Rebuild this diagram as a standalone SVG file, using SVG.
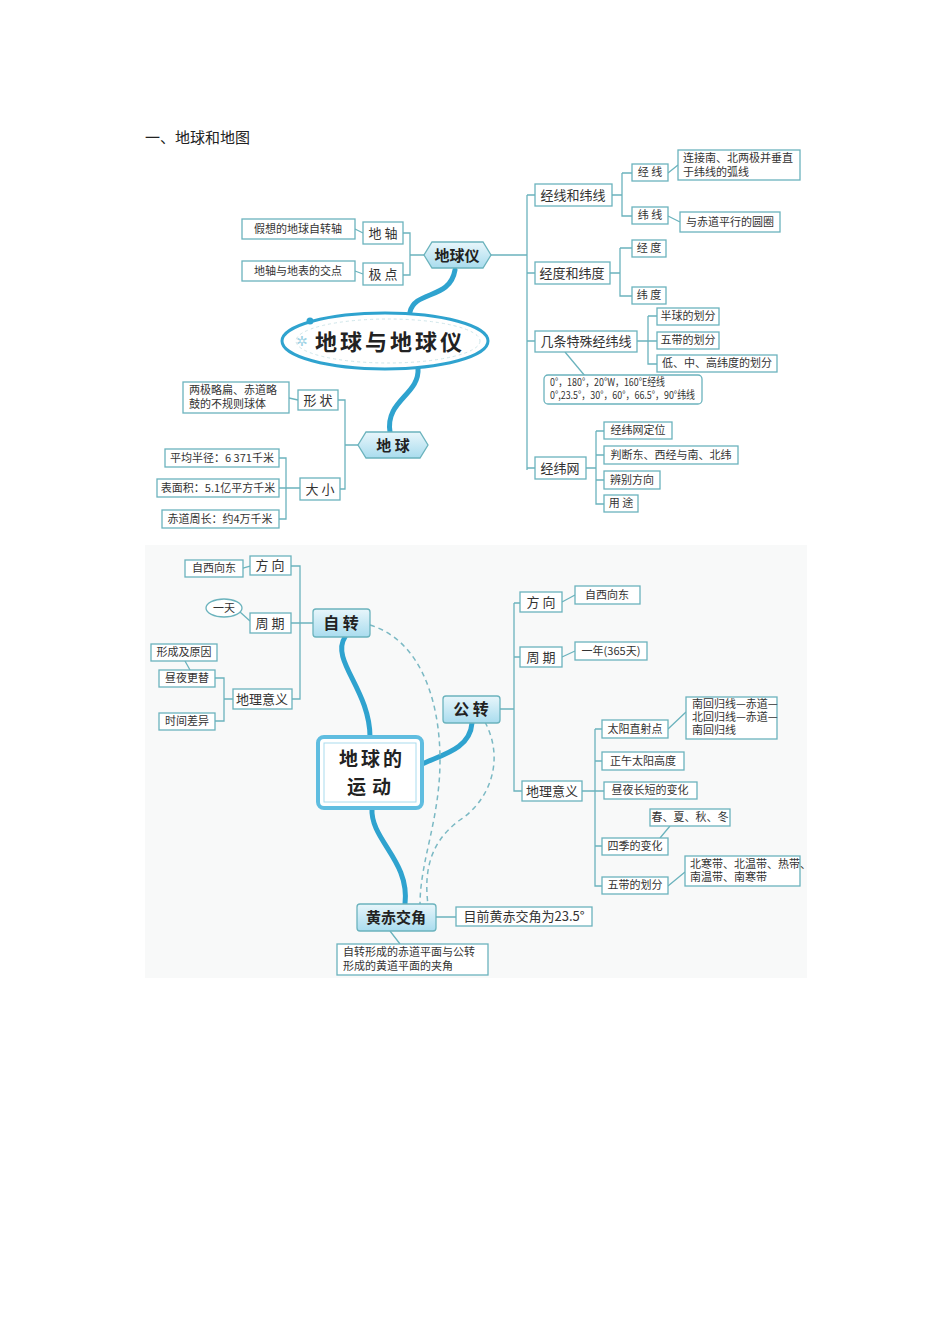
<svg xmlns="http://www.w3.org/2000/svg" width="950" height="1344" viewBox="0 0 950 1344">
<defs>
<style>
.b{fill:#fff;stroke:#6bb3bd;stroke-width:1.3}
.l{fill:none;stroke:#6bb3bd;stroke-width:1.3}
.t{font-family:"Noto Sans CJK SC","Liberation Serif",serif;fill:#333;font-size:11px}
.m{font-family:"Noto Sans CJK SC","Liberation Serif",serif;fill:#333;font-size:13px}
.big{font-family:"Noto Sans CJK SC",sans-serif;fill:#222;font-weight:bold}
.th{fill:none;stroke:#2fa3cf;stroke-width:5;stroke-linecap:round}
.d{fill:none;stroke:#7bb9c4;stroke-width:1.5;stroke-dasharray:5 4}
.g{fill:url(#gr);stroke:#6bb3bd;stroke-width:1.3}
</style>
<linearGradient id="gr" x1="0" y1="0" x2="0" y2="1"><stop offset="0" stop-color="#e8f6fb"/><stop offset="1" stop-color="#a9dcee"/></linearGradient>
</defs>
<rect width="950" height="1344" fill="#fff"/>
<text x="145" y="143" style="font-family:'Noto Sans CJK SC',sans-serif;font-size:15px;fill:#222">一、地球和地图</text>
<rect x="145" y="545" width="662" height="433" fill="#f8f9f9"/>

<g id="connectors">
<path class="l" d="M403 233 H410 V275 H403 M410 255 H425"/>
<path class="l" d="M355 229 L363 233 M355 271 L363 274"/>
<path class="th" d="M455 270 C450 300 415 290 410 312"/>
<path class="th" d="M418 368 C420 395 385 400 390 432"/>
<path class="l" d="M338 400 H345 V489 H340 M345 445 H358"/>
<path class="l" d="M289 398 L298 400"/>
<path class="l" d="M279 458 H286 V519 H279 M279 488 H300"/>
<path class="l" d="M490 255 H527 M527 195 V470 M527 195 H535 M527 273 H535 M527 341 H535 M527 468 H535"/>
<path class="l" d="M612 195 H622 M622 173 V216 H632 M622 173 H632"/>
<path class="l" d="M668 173 L678 165 M668 216 L680 222"/>
<path class="l" d="M610 273 H620 M620 248 V296 H632 M620 248 H632"/>
<path class="l" d="M637 341 H648 M648 316 V364 H657 M648 316 H657 M648 341 H657"/>
<path class="l" d="M565 352 L585 376"/>
<path class="l" d="M586 468 H596 M596 431 V504 H604 M596 431 H604 M596 455 H604 M596 480 H604"/>
<path class="l" d="M291 566 H300 V699 H292 M291 623 H313"/>
<path class="l" d="M243 568 L250 566 M240 612 L250 621"/>
<path class="l" d="M215 678 H224 V721 H215 M224 699 H233 M185 661 L190 670"/>
<path class="th" d="M345 637 C330 660 370 690 370 737"/>
<path class="th" d="M472 723 C470 750 440 755 420 765"/>
<path class="th" d="M405 904 C410 860 370 840 372 808"/>
<path class="d" d="M370 625 C420 640 440 700 440 760 C440 820 420 860 420 905"/>
<path class="d" d="M485 722 C505 760 490 800 460 820 C425 845 425 880 428 905"/>
<path class="l" d="M500 709 H514 M514 603 V791 H522 M514 603 H520 M514 657 H520"/>
<path class="l" d="M562 602 L575 595 M562 657 L575 651"/>
<path class="l" d="M582 791 H595 M595 729 V886 H602 M595 729 H602 M595 761 H602 M595 791 H604 M595 846 H602"/>
<path class="l" d="M668 729 L686 712 M660 838 L670 826 M668 886 L685 872"/>
<path class="l" d="M436 917 H456 M390 931 L400 944"/>
</g>

<g id="n-diqiuyi"><path class="g" d="M432 242 H483 L491 255 L483 268 H432 L424 255 Z"/><text class="big" x="457" y="261" font-size="15" text-anchor="middle">地球仪</text></g>
<g id="n-dizhou"><rect class="b" x="363" y="222" width="40" height="22"/><text class="m" x="383" y="238" text-anchor="middle">地 轴</text></g>
<g id="n-jidian"><rect class="b" x="363" y="263" width="40" height="22"/><text class="m" x="383" y="279" text-anchor="middle">极 点</text></g>
<g id="n-jiaxiang"><rect class="b" x="242" y="219" width="113" height="20"/><text class="t" x="298" y="233" text-anchor="middle" font-size="10">假想的地球自转轴</text></g>
<g id="n-jiaodian"><rect class="b" x="242" y="261" width="113" height="20"/><text class="t" x="298" y="275" text-anchor="middle" font-size="10">地轴与地表的交点</text></g>
<g id="n-main1"><ellipse cx="385" cy="341" rx="103" ry="28" fill="#fff" stroke="#2fa3cf" stroke-width="3"/><ellipse cx="388" cy="341" rx="92" ry="22" fill="none" stroke="#cfe6ea" stroke-dasharray="3 3"/><circle cx="310" cy="321" r="3.5" fill="#2fa3cf"/><text x="296" y="346" font-size="14" fill="#9fd3e5" font-family="DejaVu Sans">✲</text><text class="big" x="390" y="350" font-size="22" text-anchor="middle" letter-spacing="3">地球与地球仪</text></g>
<g id="n-diqiu"><path class="g" d="M366 432 H420 L428 445 L420 458 H366 L358 445 Z"/><text class="big" x="393" y="451" font-size="15" text-anchor="middle">地  球</text></g>
<g id="n-xingzhuang"><rect class="b" x="298" y="390" width="40" height="20"/><text class="m" x="318" y="405" text-anchor="middle">形 状</text></g>
<g id="n-xzdesc"><rect class="b" x="183" y="382" width="106" height="31"/><text class="t" x="189" y="394" font-size="9.5">两极略扁、赤道略</text><text class="t" x="189" y="408" font-size="9.5">鼓的不规则球体</text></g>
<g id="n-daxiao"><rect class="b" x="300" y="478" width="40" height="22"/><text class="m" x="320" y="494" text-anchor="middle">大 小</text></g>
<g id="n-banjing"><rect class="b" x="165" y="449" width="114" height="18"/><text class="t" x="222" y="462" font-size="10" text-anchor="middle">平均半径：6 371千米</text></g>
<g id="n-mianji"><rect class="b" x="157" y="479" width="122" height="18"/><text class="t" x="218" y="492" font-size="10" text-anchor="middle">表面积：5.1亿平方千米</text></g>
<g id="n-zhouchang"><rect class="b" x="162" y="510" width="117" height="18"/><text class="t" x="220" y="523" font-size="10" text-anchor="middle">赤道周长：约4万千米</text></g>
<g id="n-jxwx"><rect class="b" x="535" y="184" width="77" height="22"/><text class="m" x="573" y="200" text-anchor="middle">经线和纬线</text></g>
<g id="n-jx"><rect class="b" x="632" y="164" width="36" height="17"/><text class="t" x="650" y="176" text-anchor="middle" font-size="10">经 线</text></g>
<g id="n-wx"><rect class="b" x="632" y="207" width="36" height="17"/><text class="t" x="650" y="219" text-anchor="middle" font-size="10">纬 线</text></g>
<g id="n-jxdesc"><rect class="b" x="678" y="150" width="122" height="30"/><text class="t" x="683" y="162" font-size="9.5">连接南、北两极并垂直</text><text class="t" x="683" y="176" font-size="9.5">于纬线的弧线</text></g>
<g id="n-wxdesc"><rect class="b" x="680" y="212" width="100" height="20"/><text class="t" x="730" y="226" font-size="10" text-anchor="middle">与赤道平行的圆圈</text></g>
<g id="n-jdwd"><rect class="b" x="535" y="262" width="75" height="22"/><text class="m" x="572" y="278" text-anchor="middle">经度和纬度</text></g>
<g id="n-jd"><rect class="b" x="632" y="240" width="34" height="17"/><text class="t" x="649" y="252" text-anchor="middle" font-size="10">经 度</text></g>
<g id="n-wd"><rect class="b" x="632" y="287" width="34" height="17"/><text class="t" x="649" y="299" text-anchor="middle" font-size="10">纬 度</text></g>
<g id="n-tsjwx"><rect class="b" x="535" y="331" width="102" height="21"/><text class="m" x="586" y="346" text-anchor="middle">几条特殊经纬线</text></g>
<g id="n-bq"><rect class="b" x="657" y="308" width="62" height="17"/><text class="t" x="688" y="320" text-anchor="middle" font-size="10">半球的划分</text></g>
<g id="n-wdai"><rect class="b" x="657" y="332" width="62" height="17"/><text class="t" x="688" y="344" text-anchor="middle" font-size="10">五带的划分</text></g>
<g id="n-dzg"><rect class="b" x="657" y="355" width="120" height="17"/><text class="t" x="717" y="367" text-anchor="middle" font-size="10">低、中、高纬度的划分</text></g>
<g id="n-tsdesc"><rect class="b" x="544" y="375" width="158" height="29" rx="4"/><text class="t" x="550" y="386" font-size="8" textLength="115" lengthAdjust="spacingAndGlyphs">0°，180°，20°W，160°E经线</text><text class="t" x="550" y="399" font-size="8" textLength="145" lengthAdjust="spacingAndGlyphs">0°,23.5°，30°，60°，66.5°，90°纬线</text></g>
<g id="n-jww"><rect class="b" x="535" y="457" width="51" height="22"/><text class="m" x="560" y="473" text-anchor="middle">经纬网</text></g>
<g id="n-dw"><rect class="b" x="604" y="422" width="68" height="17"/><text class="t" x="638" y="434" text-anchor="middle" font-size="10">经纬网定位</text></g>
<g id="n-pd"><rect class="b" x="604" y="446" width="134" height="18"/><text class="t" x="671" y="459" text-anchor="middle" font-size="10">判断东、西经与南、北纬</text></g>
<g id="n-bb"><rect class="b" x="604" y="471" width="56" height="18"/><text class="t" x="632" y="484" text-anchor="middle" font-size="10">辨别方向</text></g>
<g id="n-yt"><rect class="b" x="604" y="495" width="34" height="17"/><text class="t" x="621" y="507" text-anchor="middle" font-size="10">用 途</text></g>

<g id="n-zizhuan"><rect class="g" x="313" y="609" width="57" height="28" rx="3"/><text class="big" x="341" y="629" font-size="16" text-anchor="middle">自 转</text></g>
<g id="n-zfx"><rect class="b" x="250" y="556" width="41" height="19"/><text class="m" x="270" y="570" text-anchor="middle">方 向</text></g>
<g id="n-zfxd"><rect class="b" x="185" y="560" width="58" height="17"/><text class="t" x="214" y="572" text-anchor="middle" font-size="10">自西向东</text></g>
<g id="n-zzq"><rect class="b" x="250" y="613" width="41" height="20"/><text class="m" x="270" y="628" text-anchor="middle">周 期</text></g>
<g id="n-yitian"><ellipse cx="224" cy="608" rx="18" ry="9" class="b"/><text class="t" x="224" y="612" text-anchor="middle" font-size="10">一天</text></g>
<g id="n-zdl"><rect class="b" x="233" y="689" width="59" height="20"/><text class="m" x="262" y="704" text-anchor="middle">地理意义</text></g>
<g id="n-xc"><rect class="b" x="151" y="644" width="66" height="17"/><text class="t" x="184" y="656" text-anchor="middle" font-size="10">形成及原因</text></g>
<g id="n-zy"><rect class="b" x="159" y="670" width="56" height="17"/><text class="t" x="187" y="682" text-anchor="middle" font-size="10">昼夜更替</text></g>
<g id="n-sj"><rect class="b" x="159" y="713" width="56" height="17"/><text class="t" x="187" y="725" text-anchor="middle" font-size="10">时间差异</text></g>
<g id="n-main2"><rect x="318" y="737" width="104" height="71" rx="6" fill="#fff" stroke="#5fbde0" stroke-width="4"/><rect x="324" y="743" width="92" height="59" fill="none" stroke="#a9dcee" stroke-width="1"/><text class="big" x="372" y="766" font-size="19" text-anchor="middle" letter-spacing="3">地球的</text><text class="big" x="372" y="794" font-size="19" text-anchor="middle" letter-spacing="6">运动</text></g>
<g id="n-gongzhuan"><rect class="g" x="443" y="696" width="57" height="27" rx="3"/><text class="big" x="471" y="715" font-size="16" text-anchor="middle">公 转</text></g>
<g id="n-gfx"><rect class="b" x="520" y="592" width="42" height="20"/><text class="m" x="541" y="607" text-anchor="middle">方 向</text></g>
<g id="n-gfxd"><rect class="b" x="575" y="586" width="65" height="18"/><text class="t" x="607" y="599" text-anchor="middle" font-size="10">自西向东</text></g>
<g id="n-gzq"><rect class="b" x="520" y="647" width="42" height="20"/><text class="m" x="541" y="662" text-anchor="middle">周 期</text></g>
<g id="n-gzqd"><rect class="b" x="575" y="642" width="72" height="18"/><text class="t" x="611" y="655" text-anchor="middle" font-size="11">一年(365天)</text></g>
<g id="n-gdl"><rect class="b" x="522" y="781" width="60" height="20"/><text class="m" x="552" y="796" text-anchor="middle">地理意义</text></g>
<g id="n-tyzs"><rect class="b" x="602" y="720" width="66" height="18"/><text class="t" x="635" y="733" text-anchor="middle" font-size="10">太阳直射点</text></g>
<g id="n-tyzsd"><rect class="b" x="686" y="697" width="91" height="42"/><text class="t" x="692" y="708" font-size="8">南回归线—赤道—</text><text class="t" x="692" y="721" font-size="8">北回归线—赤道—</text><text class="t" x="692" y="734" font-size="8">南回归线</text></g>
<g id="n-zw"><rect class="b" x="602" y="752" width="82" height="18"/><text class="t" x="643" y="765" text-anchor="middle" font-size="10">正午太阳高度</text></g>
<g id="n-zycd"><rect class="b" x="604" y="782" width="93" height="17"/><text class="t" x="650" y="794" text-anchor="middle" font-size="10">昼夜长短的变化</text></g>
<g id="n-sjd"><rect class="b" x="650" y="809" width="80" height="17"/><text class="t" x="690" y="821" text-anchor="middle" font-size="10">春、夏、秋、冬</text></g>
<g id="n-sj2"><rect class="b" x="602" y="838" width="66" height="17"/><text class="t" x="635" y="850" text-anchor="middle" font-size="10">四季的变化</text></g>
<g id="n-wd2"><rect class="b" x="602" y="877" width="66" height="17"/><text class="t" x="635" y="889" text-anchor="middle" font-size="10">五带的划分</text></g>
<g id="n-wd2d"><rect class="b" x="685" y="856" width="115" height="30"/><text class="t" x="690" y="868" font-size="8.5">北寒带、北温带、热带、</text><text class="t" x="690" y="881" font-size="8.5">南温带、南寒带</text></g>
<g id="n-hcjj"><rect class="g" x="357" y="904" width="79" height="27" rx="3"/><text class="big" x="396" y="923" font-size="15" text-anchor="middle" font-weight="normal">黄赤交角</text></g>
<g id="n-hcjjd"><rect class="b" x="456" y="907" width="136" height="19"/><text class="m" x="524" y="921" text-anchor="middle" font-size="12">目前黄赤交角为23.5°</text></g>
<g id="n-hcdesc"><rect class="b" x="337" y="944" width="151" height="31"/><text class="t" x="343" y="956" font-size="9">自转形成的赤道平面与公转</text><text class="t" x="343" y="970" font-size="9">形成的黄道平面的夹角</text></g>
</svg>
